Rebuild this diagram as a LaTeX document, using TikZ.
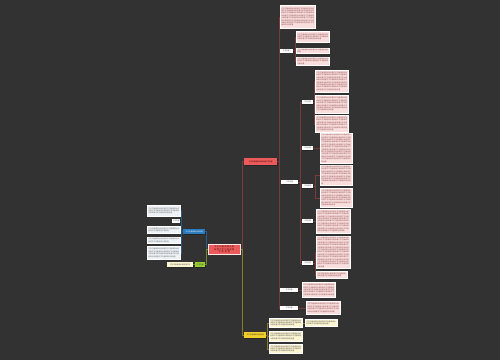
\documentclass[tikz,border=0pt]{standalone}
\usepackage{fontspec}
\setmainfont{Noto Sans CJK SC}
\usetikzlibrary{shadows}
\XeTeXlinebreaklocale "zh"
\XeTeXlinebreakskip=0pt plus 0.5pt
\definecolor{bg}{HTML}{323232}
\definecolor{pinkf}{HTML}{F9DEDE}
\definecolor{pinkt}{HTML}{8A4444}
\definecolor{redn}{HTML}{EC5B5B}
\definecolor{redl}{HTML}{7A3A3A}
\definecolor{yeln}{HTML}{F2CF2A}
\definecolor{yelf}{HTML}{FDF5D2}
\definecolor{yell}{HTML}{8A7A2A}
\definecolor{bluen}{HTML}{2B7BC0}
\definecolor{bluel}{HTML}{2A5A8A}
\definecolor{greenn}{HTML}{9ACD32}
\definecolor{greenl}{HTML}{6A8A2A}
\definecolor{whitef}{HTML}{EEF2F6}
\newcommand\ftxt[1]{\foreach \i in {1,...,#1}{文字内容说明示例段落}}
\newcommand\bx[7]{%
  \pgfmathsetmacro\tw{#4-2.4}%
  \node[#6, anchor=north west, minimum width=#4pt, minimum height=#5pt, text width=\tw pt] (#1) at (#2,#3) {\ftxt{#7}};}
\newcommand\lb[6]{%
  \node[#6, anchor=north west, minimum width=#4pt, minimum height=#5pt] (#1) at (#2,#3) {文字内容};}
\tikzset{
  base/.style={inner xsep=1pt, inner ysep=0.6pt, font=\fontsize{1.7}{2.4}\selectfont, align=left,
    general shadow={fill=black!85, shadow xshift=0.5pt, shadow yshift=-0.5pt}},
  pinkbox/.style={base, fill=pinkf, draw=white, line width=0.5pt, text=pinkt},
  yelbox/.style={base, fill=yelf, draw=white, line width=0.5pt, text=black!70},
  whitebox/.style={base, fill=whitef, draw=white, line width=0.5pt, text=black!60},
  labelbox/.style={base, fill=white, draw=none, text=black!70, inner sep=0pt, align=center},
  redline/.style={draw=redl, line width=0.5pt},
  yelline/.style={draw=yell, line width=0.5pt},
  blueline/.style={draw=bluel, line width=0.5pt},
  greenline/.style={draw=greenl, line width=0.5pt},
}
\begin{document}
\begin{tikzpicture}[x=1pt,y=-1pt]
\fill[bg] (0,0) rectangle (500,360);
\useasboundingbox (0,0) rectangle (500,360);

% main nodes
\node[base, fill=redn, draw=white!85!redn, line width=0.5pt, text=black!80!red, anchor=north west,
  minimum width=32pt, minimum height=10pt, text width=29pt, align=center,
  font=\fontsize{2}{2.8}\selectfont] (center) at (208,244) {文字内容说明示例段落文字内容说明\\示例段落};
\node[base, fill=redn, text=black!80!red, anchor=north west, minimum width=33pt, minimum height=7pt,
  align=center] (red) at (244,158) {文字内容说明示例段落文字内容};
\node[base, fill=yeln, text=black!80, anchor=north west, minimum width=22pt, minimum height=6pt,
  align=center] (yel) at (244,332) {文字内容说明示例段落};
\node[base, fill=bluen, text=white, anchor=north west, minimum width=22pt, minimum height=5pt,
  align=center] (blue) at (183,229) {文字内容说明示例段落};
\node[base, fill=greenn, text=black!80, anchor=north west, minimum width=10pt, minimum height=5pt,
  align=center] (green) at (195,262) {文字内容};

% left: blue children
\bx{b1}{147}{205}{33}{11}{whitebox}{5}
\lb{b2}{172}{219}{8}{3.5}{labelbox}
\bx{b3}{147}{226}{33}{7}{whitebox}{3}
\bx{b4}{147}{237}{33}{6}{whitebox}{3}
\bx{b5}{147}{246}{33}{13}{whitebox}{7}
\node[base, fill=yelf, text=black!70, anchor=north west, minimum width=26pt, minimum height=5pt]
  (g1) at (167,262) {文字内容说明示例段落文字};

% red branch
\bx{r1}{280}{5}{35}{23}{pinkbox}{14}
\lb{rA}{279}{48.5}{14}{4}{labelbox}
\bx{rA1}{296}{31}{33}{11}{pinkbox}{5}
\bx{rA2}{296}{48}{33}{5}{pinkbox}{2}
\bx{rA3}{296}{57}{33}{8}{pinkbox}{4}
\lb{rB}{281}{180}{17}{4}{labelbox}
\lb{L1}{302}{100}{11}{4}{labelbox}
\lb{L2}{302}{146}{11}{4}{labelbox}
\lb{L3}{302}{184}{11}{4}{labelbox}
\lb{L4}{302}{219}{11}{4}{labelbox}
\lb{L5}{302}{261}{11}{4}{labelbox}
\bx{c11}{315}{70}{33}{22}{pinkbox}{14}
\bx{c12}{315}{95}{33}{18}{pinkbox}{10}
\bx{c13}{315}{115}{33}{17}{pinkbox}{10}
\bx{c21}{320}{133}{32}{30}{pinkbox}{19}
\bx{c31}{320}{165}{32}{20}{pinkbox}{12}
\bx{c32}{320}{188}{32}{19}{pinkbox}{11}
\bx{c41}{316}{209}{34}{24}{pinkbox}{16}
\bx{c51}{316}{236}{34}{32}{pinkbox}{22}
\bx{c52}{316}{271}{31}{7}{pinkbox}{3}
\lb{rC}{280}{288}{18}{4}{labelbox}
\bx{rC1}{302}{282}{33}{15}{pinkbox}{9}
\lb{rD}{280}{306}{18}{4}{labelbox}
\bx{rD1}{306}{301}{34}{13}{pinkbox}{7}

% yellow branch
\bx{y1}{269}{318}{33}{9}{yelbox}{5}
\bx{y11}{305}{319}{32}{7}{yelbox}{3}
\bx{y2}{269}{331}{33}{10}{yelbox}{5}
\bx{y3}{269}{344}{33}{9}{yelbox}{5}

% connectors
\draw[redline] (center.east) -- ++(2,0) |- (red.west);
\draw[yelline] (center.east) -- ++(2,0) |- (yel.west);
\draw[blueline] (center.west) -- ++(-2,0) |- (blue.east);
\draw[greenline] (center.west) -- ++(-2,0) |- (green.east);
\foreach \c in {b1,b2,b3,b4,b5} \draw[blueline] (blue.west) -- ++(-1.5,0) |- (\c.east);
\draw[greenline] (green.west) -- (g1.east);
\foreach \c in {r1,rA,rB,rC,rD} \draw[redline] (red.east) -- ++(1.5,0) |- (\c.west);
\foreach \c in {rA1,rA2,rA3} \draw[redline] (rA.east) -- ++(1.5,0) |- (\c.west);
\foreach \c in {L1,L2,L3,L4,L5} \draw[redline] (rB.east) -- ++(1.5,0) |- (\c.west);
\foreach \c in {c11,c12,c13} \draw[redline] (L1.east) -- ++(1,0) |- (\c.west);
\draw[redline] (L2.east) -- (c21.west |- L2.east);
\foreach \c in {c31,c32} \draw[redline] (L3.east) -- ++(2,0) |- (\c.west);
\draw[redline] (L4.east) -- (c41.west |- L4.east);
\foreach \c in {c51,c52} \draw[redline] (L5.east) -- ++(1.5,0) |- (\c.west);
\draw[redline] (rC.east) -- (rC1.west |- rC.east);
\draw[redline] (rD.east) -- (rD1.west |- rD.east);
\foreach \c in {y1,y2,y3} \draw[yelline] (yel.east) -- ++(1,0) |- (\c.west);
\draw[yelline] (y1.east) -- (y11.west |- y1.east);
\end{tikzpicture}
\end{document}
